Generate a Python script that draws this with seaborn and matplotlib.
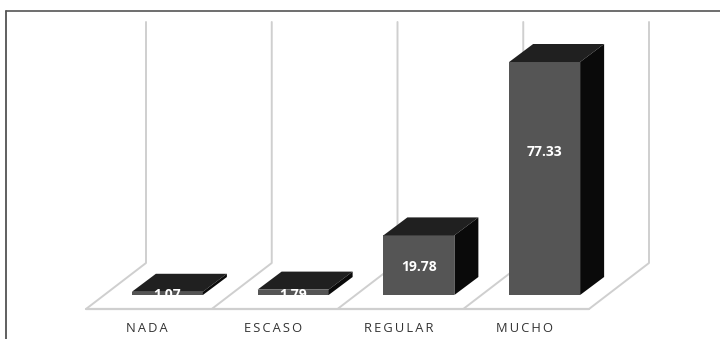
import matplotlib
matplotlib.use("Agg")
import matplotlib.pyplot as plt
import pandas as pd
import seaborn as sns
from matplotlib.lines import Line2D

# ----------------------------------------------------------------
# Data
# ----------------------------------------------------------------
categories = ["NADA", "ESCASO", "REGULAR", "MUCHO"]
values = [1.07, 1.79, 19.78, 77.33]
label_heights = [0.0, 0.0, 9.3, 47.6]

FRONT = "#555555"
TOP = "#202020"
SIDE = "#0a0a0a"
GRID = "#cfcfcf"
INK = "#333333"

W, H = 720, 339
PX_PER_UNIT = 3.013
PX_PER_CAT = 125.75

sns.set_theme(style="white")
plt.rcParams["font.family"] = ["Open Sans", "DejaVu Sans"]

fig = plt.figure(figsize=(W / 100, H / 100), dpi=100, facecolor="white")
# axes box = floor front edge (y=309) up to wall top (y=22), x 86 to 589
ax = fig.add_axes([86 / W, 1 - 309 / H, 503 / W, 287 / H])

df = pd.DataFrame({"cat": categories, "val": values})
sns.barplot(data=df, x="cat", y="val", color=FRONT, saturation=1, width=71 / PX_PER_CAT,
            linewidth=0, ax=ax, zorder=3)

ax.set_xlim(-0.5, 3.5)
ax.set_ylim(-14 / PX_PER_UNIT, 273 / PX_PER_UNIT)

# 3D look, offsets in data units
shift = 18.5 / PX_PER_CAT        # bars sit in the middle of the floor depth
depth_x, depth_y = 24 / PX_PER_CAT, 18 / PX_PER_UNIT
floor_x, floor_y = 60 / PX_PER_CAT, 46 / PX_PER_UNIT
y0, y1 = ax.get_ylim()

for i in range(len(categories) + 1):
    x = i - 0.5
    ax.plot([x, x + floor_x, x + floor_x], [y0, y0 + floor_y, y1], color=GRID, lw=1.4, zorder=1, clip_on=False)
ax.plot([-0.5, 3.5], [y0, y0], color=GRID, lw=1.6, zorder=1, clip_on=False)

for bar, lab, pos in zip(ax.patches, values, label_heights):
    bar.set_x(bar.get_x() + shift)
    l, r, h = bar.get_x(), bar.get_x() + bar.get_width(), bar.get_height()
    ax.fill([l, r, r + depth_x, l + depth_x], [h, h, h + depth_y, h + depth_y], color=TOP, lw=0, zorder=3, clip_on=False)
    ax.fill([r, r + depth_x, r + depth_x, r], [0, depth_y, h + depth_y, h], color=SIDE, lw=0, zorder=3, clip_on=False)
    ax.text((l + r) / 2, pos, f"{lab:.2f}", color="white", fontweight="bold", fontsize=10,
            ha="center", va="center", zorder=5)

ax.set_xlabel("")
ax.set_ylabel("")
ax.set_yticks([])
ax.set_xticks([i - 2 / PX_PER_CAT for i in range(len(categories))])
ax.set_xticklabels(["\u2009".join(c) for c in categories], fontsize=9.3, color=INK)
ax.tick_params(axis="x", length=0, pad=9)
sns.despine(ax=ax, left=True, bottom=True)
ax.patch.set_alpha(0)

# outer frame, only top and left are in the crop
fig.add_artist(Line2D([6 / W, 6 / W], [0, 1 - 11 / H], color="#444444", lw=1.2))
fig.add_artist(Line2D([6 / W, 1], [1 - 11 / H, 1 - 11 / H], color="#555555", lw=1.2))

fig.savefig("out.png", dpi=100)
